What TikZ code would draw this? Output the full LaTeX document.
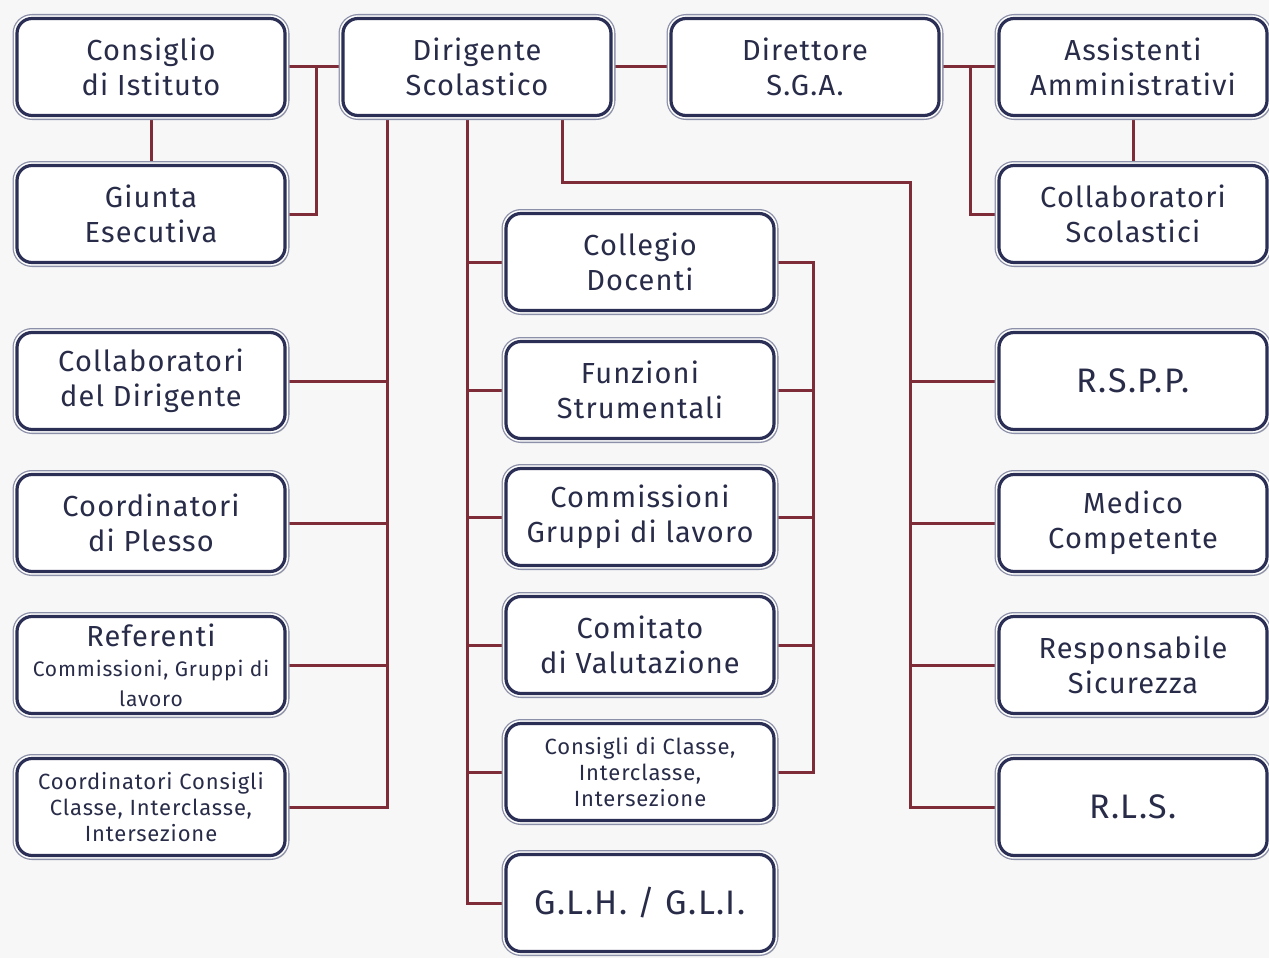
\documentclass[tikz,border=0pt]{standalone}
\usepackage{fontspec}
\setmainfont{Fira Sans}[LetterSpace=4]
\usetikzlibrary{shadows,backgrounds}
\definecolor{navy}{HTML}{2B2F55}
\definecolor{rim}{HTML}{8C90A8}
\definecolor{wire}{HTML}{7D2C38}
\definecolor{txt}{HTML}{282C48}
\definecolor{bgc}{HTML}{F7F7F8}
\tikzset{
  box/.style={rounded corners=15pt, minimum width=268pt, minimum height=97pt,
    fill=white, draw=navy, line width=3.2pt, text=txt, align=center, inner sep=0pt,
    drop shadow={shadow xshift=3pt, shadow yshift=-4pt, opacity=0.22, fill=black},
    preaction={draw=rim, line width=9pt},
    preaction={draw=white, line width=6.4pt},
    font=\fontsize{29}{35}\selectfont},
  smalltext/.style={font=\fontsize{22}{26}\selectfont},
  bigtext/.style={font=\fontsize{34}{40}\selectfont},
  link/.style={draw=wire, line width=3pt},
}
\newcommand{\sm}{\fontsize{21}{26}\selectfont}
\begin{document}
\begin{tikzpicture}[x=1pt,y=-1pt]
\useasboundingbox (0,0) rectangle (1269,958);
% top row
\node[box] (ci)   at (151,67)  {Consiglio\\di Istituto};
\node[box] (ds)   at (477,67)  {Dirigente\\Scolastico};
\node[box] (dsga) at (805,67)  {Direttore\\S.G.A.};
\node[box] (aa)   at (1133,67) {Assistenti\\Amministrativi};
\node[box] (ge)   at (151,214) {Giunta\\Esecutiva};
\node[box] (cs)   at (1133,214){Collaboratori\\Scolastici};
% left column
\node[box] (cd)   at (151,381) {Collaboratori\\del Dirigente};
\node[box] (cp)   at (151,523) {Coordinatori\\di Plesso};
\node[box] (ref)  at (151,665) {Referenti\\[-5pt]{\sm Commissioni, Gruppi di}\\[-5pt]{\sm lavoro}};
\node[box,smalltext] (ccc) at (151,807) {Coordinatori Consigli\\Classe, Interclasse,\\Intersezione};
% middle column
\node[box] (cdoc) at (640,262) {Collegio\\Docenti};
\node[box] (fs)   at (640,390) {Funzioni\\Strumentali};
\node[box] (comm) at (640,517) {Commissioni\\Gruppi di lavoro};
\node[box] (cv)   at (640,645) {Comitato\\di Valutazione};
\node[box,smalltext] (ccl) at (640,772) {Consigli di Classe,\\Interclasse,\\Intersezione};
\node[box,bigtext] (glh) at (640,903) {G.L.H. / G.L.I.};
% right column
\node[box,bigtext] (rspp) at (1133,381) {R.S.P.P.};
\node[box] (mc)   at (1133,523) {Medico\\Competente};
\node[box] (rs)   at (1133,665) {Responsabile\\Sicurezza};
\node[box,bigtext] (rls)  at (1133,807) {R.L.S.};
% spine coordinates
\coordinate (sCI) at (316,0);
\coordinate (sDS) at (970,0);
\coordinate (sL)  at (387,0);
\coordinate (sM)  at (467,0);
\coordinate (sR)  at (562,0);
\coordinate (sRR) at (910,182);
\coordinate (sMR) at (813,0);
\begin{scope}[on background layer]
\fill[bgc] (0,0) rectangle (1269,958);
\draw[link] (ci.east) -- (ds.west);
\draw[link] (ci.east -| sCI) |- (ge.east);
\draw[link] (ci.south) -- (ge.north);
\draw[link] (ds.east) -- (dsga.west);
\draw[link] (dsga.east) -- (aa.west);
\draw[link] (dsga.east -| sDS) |- (cs.west);
\draw[link] (aa.south) -- (cs.north);
% left spine
\draw[link] (ds.south -| sL) |- (ccc.east);
\foreach \n in {cd,cp,ref} \draw[link] (\n.east) -- (\n.east -| sL);
% middle spine
\draw[link] (ds.south -| sM) |- (glh.west);
\foreach \n in {cdoc,fs,comm,cv,ccl} \draw[link] (\n.west -| sM) -- (\n.west);
% right spine
\draw[link] (ds.south -| sR) |- (sRR) |- (rls.west);
\foreach \n in {rspp,mc,rs} \draw[link] (\n.west -| sRR) -- (\n.west);
% middle right spine
\draw[link] (cdoc.east) -| (ccl.east -| sMR) -- (ccl.east);
\foreach \n in {fs,comm,cv} \draw[link] (\n.east) -- (\n.east -| sMR);
\end{scope}
\end{tikzpicture}
\end{document}
